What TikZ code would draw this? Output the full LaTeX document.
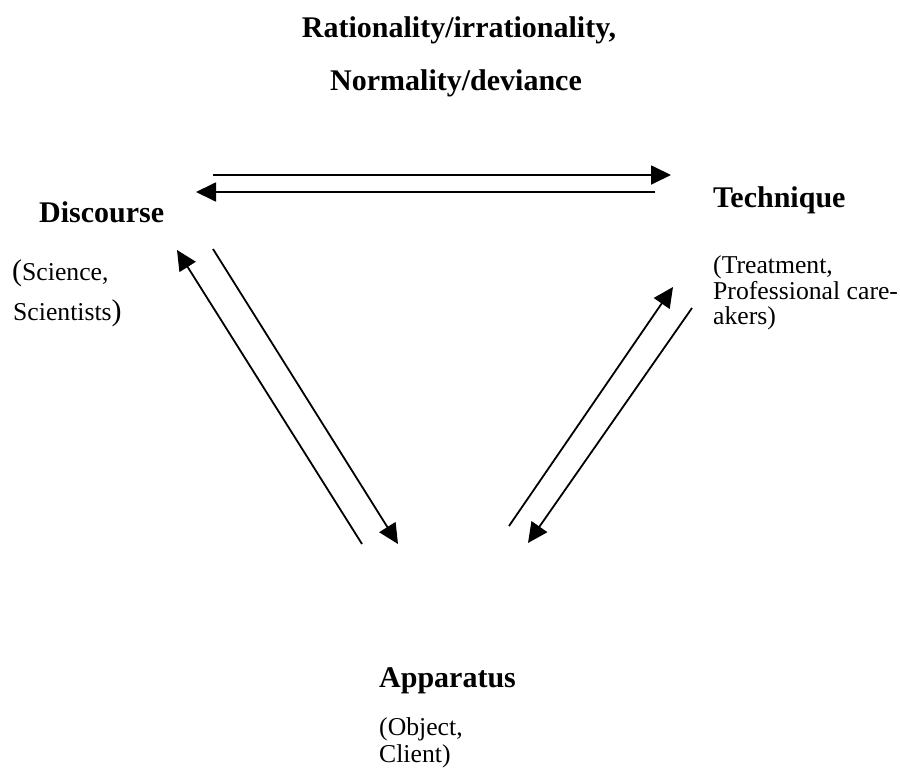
\documentclass[tikz,border=0pt]{standalone}
\usepackage{fontspec}
\setmainfont{Liberation Serif}
\usetikzlibrary{arrows.meta}

\tikzset{
  heading/.style={inner sep=0pt, anchor=base west, font=\fontsize{30}{36}\selectfont\bfseries},
  title/.style={inner sep=0pt, anchor=base, font=\fontsize{30}{36}\selectfont\bfseries},
  note/.style={inner sep=0pt, anchor=base west, font=\fontsize{25.7}{30}\selectfont},
  flow/.style={line width=1.8pt, -{Triangle[length=20pt,width=19pt]}},
}
\newcommand{\bigparen}[1]{{\fontsize{30}{36}\selectfont #1}}

\begin{document}
\begin{tikzpicture}[x=1pt,y=-1pt]
  \useasboundingbox (0,0) rectangle (900,769);

  % title
  \node[title] (t1) at (459,37) {Rationality/irrationality,};
  \node[title] (t2) at (456,90) {Normality/deviance};

  % Discourse
  \node[heading] (disc) at (39,222) {Discourse};
  \node[note] (disc1) at (12,280) {\bigparen{(}Science,};
  \node[note] (disc2) at (13,320) {Scientists\bigparen{)}};

  % Technique
  \node[heading] (tech) at (713,207) {Technique};
  \node[note] (tech1) at (713,273) {(Treatment,};
  \node[note] (tech2) at (713,299) {Professional care-};
  \node[note] (tech3) at (713,324) {akers)};

  % Apparatus
  \node[heading] (app) at (379,687) {Apparatus};
  \node[note] (app1) at (379,735) {(Object,};
  \node[note] (app2) at (379,762) {Client)};

  % arrow end points
  \coordinate (dtA) at (213,175);
  \coordinate (dtB) at (671,175);
  \coordinate (tdA) at (655,192);
  \coordinate (tdB) at (196,192);

  \coordinate (adA) at (362,544);
  \coordinate (adB) at (177,250);
  \coordinate (daA) at (213,249);
  \coordinate (daB) at (398,544);

  \coordinate (atA) at (509,526);
  \coordinate (atB) at (673,287);
  \coordinate (taA) at (692,308);
  \coordinate (taB) at (528,543);

  % arrows
  \draw[flow] (dtA) -- (dtB);
  \draw[flow] (tdA) -- (tdB);
  \draw[flow] (adA) -- (adB);
  \draw[flow] (daA) -- (daB);
  \draw[flow] (atA) -- (atB);
  \draw[flow] (taA) -- (taB);
\end{tikzpicture}
\end{document}
